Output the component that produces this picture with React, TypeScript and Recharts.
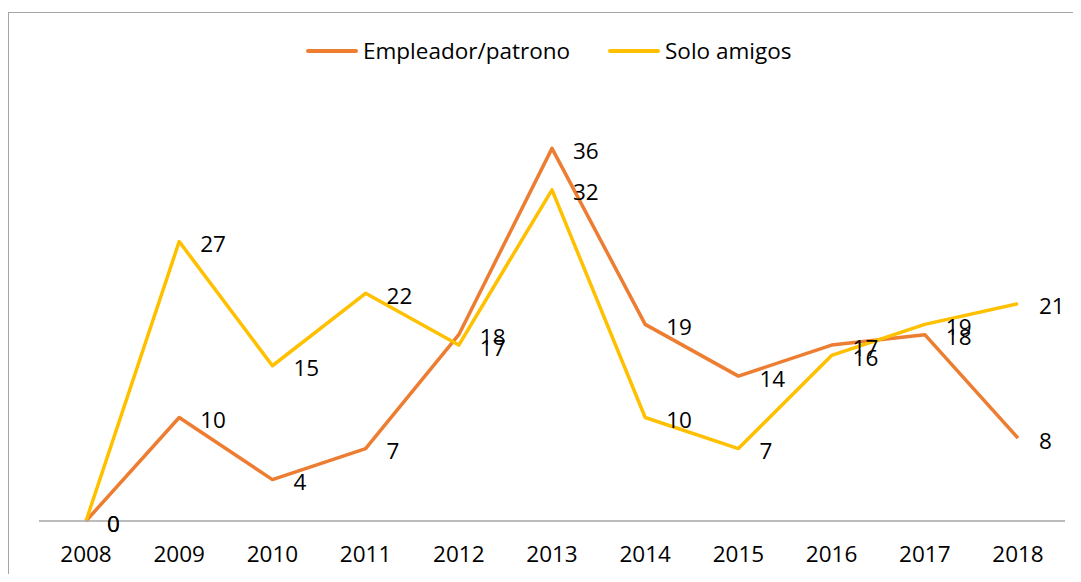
import React from "react";
import { LineChart, Line, XAxis, YAxis, LabelList } from "recharts";

const years = ["2008", "2009", "2010", "2011", "2012", "2013", "2014", "2015", "2016", "2017", "2018"];
const empleador = [0, 10, 4, 7, 18, 36, 19, 14, 17, 18, 8];
const soloAmigos = [0, 27, 15, 22, 17, 32, 10, 7, 16, 19, 21];

const seriesNames = { emp: "Empleador/patrono", amigos: "Solo amigos" };
const colors = { emp: "#ED7D31", amigos: "#FFC000" };

const data = years.map((y, i) => ({ year: y, emp: empleador[i], amigos: soloAmigos[i] }));

const FONT = "'Open Sans', sans-serif";

const RightLabel = (props: any) => {
  const { x, y, value } = props;
  return (
    <text x={x + 21} y={y + 2} dominantBaseline="central" textAnchor="start" fontSize={22.5} fontFamily={FONT} fill="#000">
      {value}
    </text>
  );
};

export default function App() {
  return (
    <div style={{ position: "relative", width: 1081, height: 582, margin: -8, overflow: "hidden", background: "#fff" }}>
      <div style={{ position: "absolute", left: 8, top: 12, width: 1200, height: 700, border: "1px solid #a6a6a6", boxSizing: "border-box" }} />
      <div style={{ position: "absolute", left: 306, top: 35, display: "flex", alignItems: "center", fontFamily: FONT, fontSize: 22.5, color: "#000" }}>
        <span style={{ display: "inline-block", width: 52, height: 4, background: colors.emp, borderRadius: 2, marginRight: 5 }} />
        <span>{seriesNames.emp}</span>
        <span style={{ display: "inline-block", width: 52, height: 4, background: colors.amigos, borderRadius: 2, marginLeft: 38, marginRight: 5 }} />
        <span>{seriesNames.amigos}</span>
      </div>
      <div style={{ position: "absolute", left: 0, top: 0 }}>
        <LineChart width={1081} height={582} data={data} margin={{ top: 107, right: 16, bottom: 31, left: 39 }}>
          <XAxis
            dataKey="year"
            height={30}
            padding={{ left: 47, right: 47 }}
            axisLine={{ stroke: "#a6a6a6", strokeWidth: 1.5 }}
            tickLine={false}
            tickSize={0}
            tickMargin={25}
            tick={{ fontSize: 22.5, fontFamily: FONT, fill: "#000" }}
            interval={0}
          />
          <YAxis hide domain={[0, 40]} />
          <Line dataKey="emp" stroke={colors.emp} strokeWidth={3.5} dot={false} isAnimationActive={false} strokeLinejoin="round">
            <LabelList dataKey="emp" content={<RightLabel />} />
          </Line>
          <Line dataKey="amigos" stroke={colors.amigos} strokeWidth={3.5} dot={false} isAnimationActive={false} strokeLinejoin="round">
            <LabelList dataKey="amigos" content={<RightLabel />} />
          </Line>
        </LineChart>
      </div>
    </div>
  );
}
